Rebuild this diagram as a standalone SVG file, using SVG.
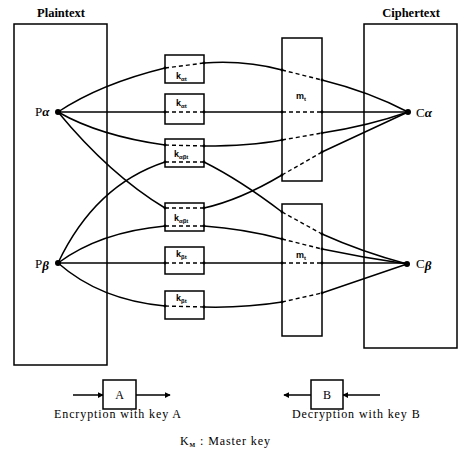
<svg xmlns="http://www.w3.org/2000/svg" width="462" height="457" viewBox="0 0 462 457">
  <style>
    .frame { fill: none; stroke: #000; stroke-width: 1.5; }
    .box { fill: #fff; stroke: #000; stroke-width: 1.5; }
    .wire { fill: none; stroke: #000; stroke-width: 1.5; }
    .thru { fill: none; stroke: #000; stroke-width: 1.4; stroke-dasharray: 4 3; }
    .lbl { font-family: "Liberation Serif", "DejaVu Serif", serif; fill: #000; }
    .head { font-family: "Liberation Serif", serif; font-weight: bold; font-size: 12.5px; text-anchor: middle; }
    .end { font-size: 13px; }
    .gk { font-weight: bold; font-style: italic; }
    .key { font-family: "Liberation Sans", Arial, sans-serif; font-size: 9px; font-weight: bold; }
    .sub { font-size: 6px; }
    .cap { font-size: 12px; letter-spacing: 0.9px; }
  </style>
  <defs>
    <marker id="arr" viewBox="0 0 8 8" refX="7" refY="4" markerWidth="6" markerHeight="6" orient="auto" markerUnits="userSpaceOnUse">
      <path d="M0,0 L8,4 L0,8 z" fill="#000"/>
    </marker>
  </defs>

  <!-- terminal frames -->
  <g id="plaintext">
    <rect class="frame" x="14" y="24" width="93" height="341"/>
    <text class="lbl head" x="61" y="17">Plaintext</text>
  </g>
  <g id="ciphertext">
    <rect class="frame" x="364" y="24" width="93" height="324"/>
    <text class="lbl head" x="411" y="17">Ciphertext</text>
  </g>

  <!-- routes from plaintext ends to ciphertext ends -->
  <g id="connectors">
    <path class="wire" d="M58,112 Q100,84 165,68 L204,63 Q245,60 282,70 L322,80 Q370,92 408,112"/>
    <path class="wire" d="M58,112 L408,112"/>
    <path class="wire" d="M58,112 Q100,136 165,145 L204,146 Q250,146 282,140 L322,133 Q368,126 408,112"/>
    <path class="wire" d="M58,112 Q110,175 165,208 L204,208 Q240,200 282,175 L322,152 L408,112"/>
    <path class="wire" d="M58,263 Q95,185 165,162 L204,162 Q240,180 282,212 L322,234 Q362,252 407,264"/>
    <path class="wire" d="M58,263 Q100,232 165,226 L204,226 Q245,229 282,239 L322,249 Q365,258 407,264"/>
    <path class="wire" d="M58,263 L407,263"/>
    <path class="wire" d="M58,263 Q100,300 165,306 L204,307 Q245,308 282,302 L322,293 L407,264"/>
  </g>

  <!-- key boxes -->
  <g id="k1">
    <rect class="box" x="165" y="55" width="39" height="28"/>
    <text class="lbl key" x="176" y="79">k<tspan class="sub" dy="2">αt</tspan></text>
  </g>
  <g id="k2">
    <rect class="box" x="165" y="94" width="39" height="30"/>
    <text class="lbl key" x="176" y="106">k<tspan class="sub" dy="2">αt</tspan></text>
  </g>
  <g id="k3">
    <rect class="box" x="165" y="139" width="39" height="28"/>
    <text class="lbl key" x="174" y="157">k<tspan class="sub" dy="2">αβt</tspan></text>
  </g>
  <g id="k4">
    <rect class="box" x="165" y="203" width="39" height="28"/>
    <text class="lbl key" x="174" y="221">k<tspan class="sub" dy="2">αβt</tspan></text>
  </g>
  <g id="k5">
    <rect class="box" x="165" y="247" width="39" height="27"/>
    <text class="lbl key" x="176" y="257">k<tspan class="sub" dy="2">βt</tspan></text>
  </g>
  <g id="k6">
    <rect class="box" x="165" y="291" width="39" height="28"/>
    <text class="lbl key" x="176" y="301">k<tspan class="sub" dy="2">βt</tspan></text>
  </g>

  <!-- master-key boxes -->
  <g id="m-upper">
    <rect class="box" x="282" y="38" width="40" height="143"/>
    <text class="lbl key" x="296" y="99" font-weight="normal">m<tspan class="sub" dy="2">t</tspan></text>
  </g>
  <g id="m-lower">
    <rect class="box" x="282" y="204" width="40" height="132"/>
    <text class="lbl key" x="296" y="258" font-weight="normal">m<tspan class="sub" dy="2">t</tspan></text>
  </g>

  <!-- route segments carried through the boxes -->
  <g id="through">
    <path class="thru" d="M165,68 L204,63 M282,70 L322,80"/>
    <path class="thru" d="M165,112 L204,112 M282,112 L322,112"/>
    <path class="thru" d="M165,145 L204,146 M282,140 L322,133"/>
    <path class="thru" d="M165,208 L204,208 M282,175 L322,152"/>
    <path class="thru" d="M165,162 L204,162 M282,212 L322,234"/>
    <path class="thru" d="M165,226 L204,226 M282,239 L322,249"/>
    <path class="thru" d="M165,263 L204,263 M282,263 L322,263"/>
    <path class="thru" d="M165,306 L204,307 M282,302 L322,293"/>
    <g fill="#000">
      <circle cx="165" cy="68" r="1.4"/><circle cx="204" cy="63" r="1.4"/><circle cx="282" cy="70" r="1.4"/><circle cx="322" cy="80" r="1.4"/>
      <circle cx="165" cy="112" r="1.4"/><circle cx="204" cy="112" r="1.4"/><circle cx="282" cy="112" r="1.4"/><circle cx="322" cy="112" r="1.4"/>
      <circle cx="165" cy="145" r="1.4"/><circle cx="204" cy="146" r="1.4"/><circle cx="282" cy="140" r="1.4"/><circle cx="322" cy="133" r="1.4"/>
      <circle cx="165" cy="208" r="1.4"/><circle cx="204" cy="208" r="1.4"/><circle cx="282" cy="175" r="1.4"/><circle cx="322" cy="152" r="1.4"/>
      <circle cx="165" cy="162" r="1.4"/><circle cx="204" cy="162" r="1.4"/><circle cx="282" cy="212" r="1.4"/><circle cx="322" cy="234" r="1.4"/>
      <circle cx="165" cy="226" r="1.4"/><circle cx="204" cy="226" r="1.4"/><circle cx="282" cy="239" r="1.4"/><circle cx="322" cy="249" r="1.4"/>
      <circle cx="165" cy="263" r="1.4"/><circle cx="204" cy="263" r="1.4"/><circle cx="282" cy="263" r="1.4"/><circle cx="322" cy="263" r="1.4"/>
      <circle cx="165" cy="306" r="1.4"/><circle cx="204" cy="307" r="1.4"/><circle cx="282" cy="302" r="1.4"/><circle cx="322" cy="293" r="1.4"/>
    </g>
  </g>

  <!-- end points -->
  <g id="p-alpha">
    <circle cx="58" cy="112" r="3"/>
    <text class="lbl end" x="35" y="116">P<tspan class="gk">α</tspan></text>
  </g>
  <g id="p-beta">
    <circle cx="58" cy="263" r="3"/>
    <text class="lbl end" x="35" y="268">P<tspan class="gk" dy="2">β</tspan></text>
  </g>
  <g id="c-alpha">
    <circle cx="408" cy="112" r="3"/>
    <text class="lbl end" x="416" y="117">C<tspan class="gk">α</tspan></text>
  </g>
  <g id="c-beta">
    <circle cx="407" cy="264" r="3"/>
    <text class="lbl end" x="416" y="268">C<tspan class="gk" dy="2">β</tspan></text>
  </g>

  <!-- legend -->
  <g id="legend-a">
    <path class="wire" d="M73,395 L103,395" marker-end="url(#arr)"/>
    <path class="wire" d="M136,395 L170,395" marker-end="url(#arr)"/>
    <rect class="box" x="103" y="380" width="33" height="29"/>
    <text class="lbl" x="119.5" y="399" font-size="12" text-anchor="middle">A</text>
    <text class="lbl cap" x="54" y="418">Encryption with key A</text>
  </g>
  <g id="legend-b">
    <path class="wire" d="M380,395 L343,395" marker-end="url(#arr)"/>
    <path class="wire" d="M311,395 L284,395" marker-end="url(#arr)"/>
    <rect class="box" x="311" y="380" width="32" height="29"/>
    <text class="lbl" x="327" y="399" font-size="12" text-anchor="middle">B</text>
    <text class="lbl cap" x="292" y="418">Decryption with key B</text>
  </g>
  <g id="legend-km">
    <text class="lbl cap" x="180" y="445">K<tspan class="sub" dy="2" font-weight="bold">M</tspan><tspan dy="-2"> : Master key</tspan></text>
  </g>
</svg>
